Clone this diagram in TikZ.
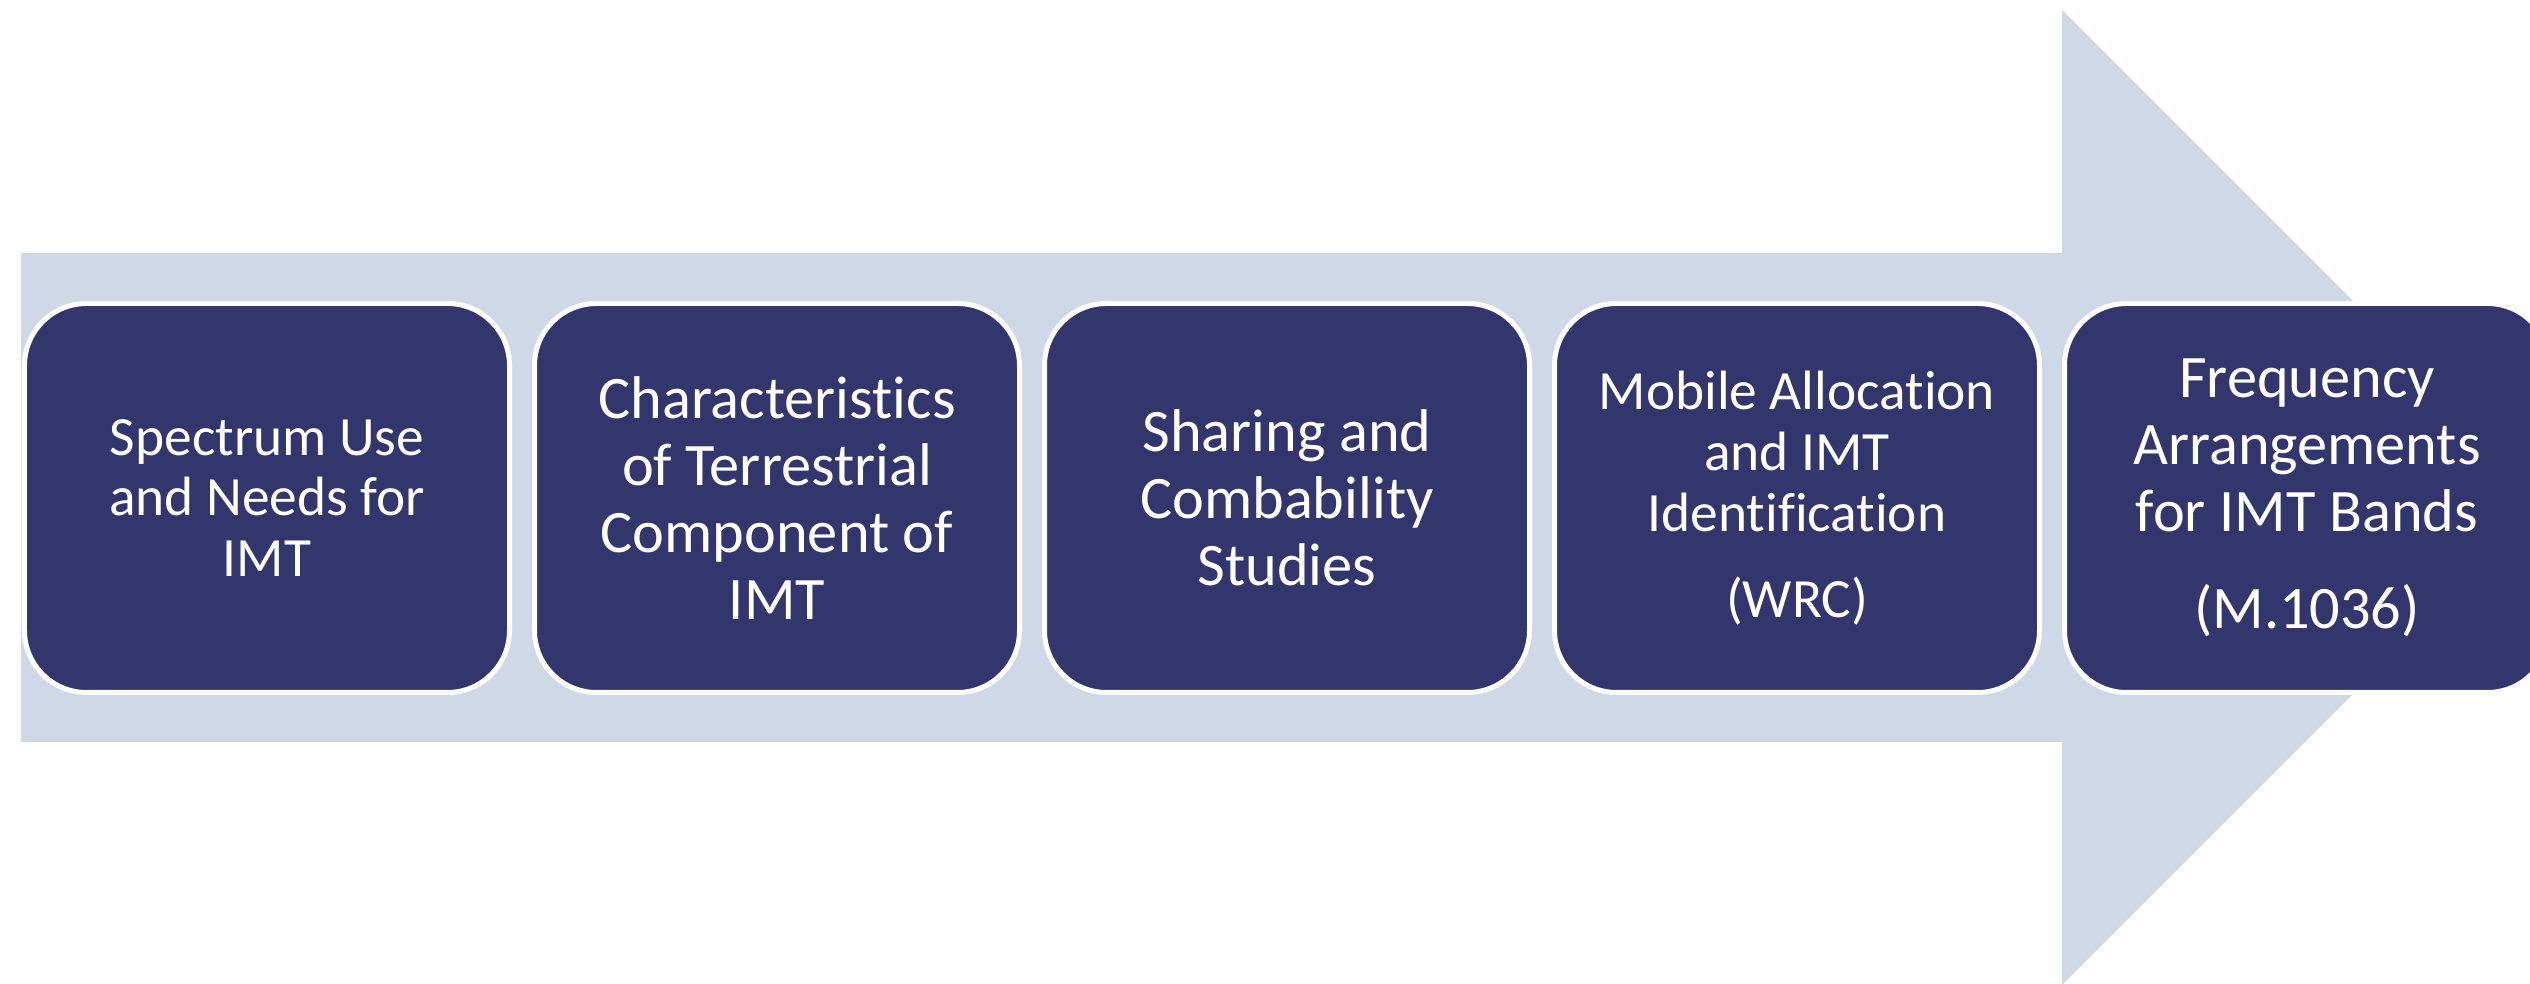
\documentclass[tikz,border=0pt]{standalone}
\usepackage{fontspec}
\setmainfont{Carlito}[Ligatures={NoCommon,NoContextual}]
\definecolor{shaftblue}{RGB}{208,216,232}
\definecolor{stagenavy}{RGB}{50,54,108}
\newcommand{\smalltxt}{\fontsize{15.76pt}{17.3pt}\selectfont}
\newcommand{\bigtxt}{\fontsize{17.16pt}{19.06pt}\selectfont}

\begin{document}
\begin{tikzpicture}[stage/.style={rectangle, rounded corners=0.62cm, draw=white, line width=0.5mm, fill=stagenavy, text=white, align=center, minimum width=4.85cm, minimum height=3.89cm, inner sep=0pt}]
            \useasboundingbox (0,0) rectangle (25.30,9.84);
            \clip (0,0) rectangle (25.30,9.84);
            % big arrow behind the stages
            \fill[shaftblue] (0.21,2.42) -- (0.21,7.31) -- (20.62,7.31) -- (20.62,9.74) -- (25.495,4.865) -- (20.62,-0.01) -- (20.62,2.42) -- cycle;
            \node[stage, font=\smalltxt] (needs) at (2.67,4.86) {Spectrum Use\\and Needs for\\IMT};
            \node[stage, font=\bigtxt] (chars) at (7.77,4.86) {Characteristics\\of Terrestrial\\Component of\\IMT};
            \node[stage, font=\bigtxt] (share) at (12.87,4.86) {Sharing and\\Combability\\Studies};
            \node[stage, font=\smalltxt] (alloc) at (17.97,4.86) {Mobile Allocation\\and IMT\\Identification\\[0.25cm](WRC)};
            \node[stage, font=\bigtxt] (freq) at (23.07,4.86) {Frequency\\Arrangements\\for IMT Bands\\[0.30cm](M.1036)};
        \end{tikzpicture}
\end{document}
